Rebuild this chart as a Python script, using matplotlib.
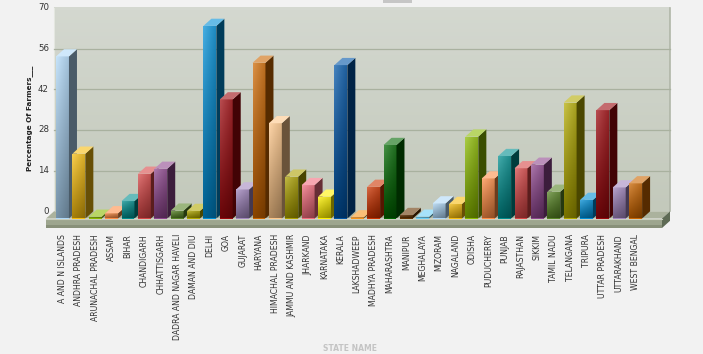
import numpy as np
import matplotlib
matplotlib.use('Agg')
import matplotlib.pyplot as plt
from matplotlib.patches import Polygon, Rectangle
from matplotlib.colors import to_rgb

states = ["A AND N ISLANDS", "ANDHRA PRADESH", "ARUNACHAL PRADESH", "ASSAM", "BIHAR",
          "CHANDIGARH", "CHHATTISGARH", "DADRA AND NAGAR HAVELI", "DAMAN AND DIU", "DELHI",
          "GOA", "GUJARAT", "HARYANA", "HIMACHAL PRADESH", "JAMMU AND KASHMIR", "JHARKAND",
          "KARNATAKA", "KERALA", "LAKSHADWEEP", "MADHYA PRADESH", "MAHARASHTRA", "MANIPUR",
          "MEGHALAYA", "MIZORAM", "NAGALAND", "ODISHA", "PUDUCHERRY", "PUNJAB", "RAJASTHAN",
          "SIKKIM", "TAMIL NADU", "TELANGANA", "TRIPURA", "UTTAR PRADESH", "UTTARAKHAND",
          "WEST BENGAL"]
values = [55.8, 22.3, 0.6, 1.8, 6.0, 15.4, 17.1, 2.7, 2.6, 66.3,
          41.0, 10.0, 53.6, 32.8, 14.4, 11.5, 7.5, 52.8, 0.4, 10.9,
          25.3, 1.2, 0.6, 5.2, 5.0, 28.2, 13.8, 21.5, 17.3, 18.5,
          9.2, 39.9, 6.4, 37.3, 10.7, 12.1]
palette = ["#AFD8F8", "#F6BD0F", "#8BBA00", "#FF8E46", "#008E8E", "#D64646", "#8E468E",
           "#588526", "#B3AA00", "#008ED6", "#9D080D", "#A186BE", "#CC6600", "#FDC689",
           "#ABA000", "#F26D7D", "#FFF200", "#0054A6", "#F7941C", "#CC3300", "#006600",
           "#663300", "#6DCFF6"]
yticks = [0, 14, 28, 42, 56, 70]
ylabel = "Percentage Of Farmers___"
xlabel = "STATE NAME"

W, H = 703, 354
fig = plt.figure(figsize=(W / 100, H / 100), dpi=100, facecolor='#f2f2f2')

# pixel-to-data geometry
slot, x0px, ppu, basepx = 16.375, 62.5, 2.905, 218.5
ax = fig.add_axes([40 / W, 1 - 232 / H, 635 / W, 227 / H])
xlim = ((40 - x0px) / slot, (675 - x0px) / slot)
ylim = ((basepx - 232) / ppu, (basepx - 5) / ppu)
ax.set_facecolor('none')
for s in ax.spines.values():
    s.set_visible(False)

dx = 8 / slot
dy = 7.2 / ppu
bw = 0.79
ymax = yticks[-1]

xl = (46 - x0px) / slot
xr = (662 - x0px) / slot
slab = (basepx - 228) / ppu

# back wall with gradient
grad = np.linspace(0, 1, 64)[:, None]
top_c = np.array(to_rgb('#d4d8d0'))
bot_c = np.array(to_rgb('#c3c9bb'))
wall = top_c[None, None, :] * (1 - grad[..., None]) + bot_c[None, None, :] * grad[..., None]
wall = np.repeat(wall, 2, axis=1)
ax.imshow(wall, extent=[xl + dx, xr + dx, dy, ymax + dy], aspect='auto', zorder=0, origin='upper')
ax.plot([xl + dx, xl + dx], [dy, ymax + dy], color='#e4e7e0', lw=0.8, zorder=0.5)
ax.plot([xr + dx, xr + dx], [dy, ymax + dy], color='#b0b6a8', lw=1.2, zorder=0.5)
for v in yticks[1:-1]:
    ax.plot([xl + dx, xr + dx], [v + dy, v + dy], color='#a9b19f', lw=0.9, zorder=0.6)

# floor
ax.add_patch(Polygon([(xl, 0), (xr, 0), (xr + dx, dy), (xl + dx, dy)], closed=True,
                     fc='#abb29d', ec='none', zorder=1))
ax.add_patch(Rectangle((xl, slab), xr - xl, -slab, fc='#9da58e', ec='none', zorder=1))
ax.add_patch(Rectangle((xl, slab), xr - xl, -slab * 0.35, fc='#889079', ec='none', zorder=1.1))
ax.plot([xl, xr], [0, 0], color='#c8cdbd', lw=0.8, zorder=1.2)
ax.add_patch(Polygon([(xr, 0), (xr + dx, dy), (xr + dx, dy + slab), (xr, slab)], closed=True,
                     fc='#5f6b55', ec='none', zorder=1))

# bars
ny, nx = 48, 16
ty = np.linspace(0, 1, ny)[:, None]
tx = np.linspace(0, 1, nx)[None, :]
for i, v in enumerate(values):
    base = np.array(to_rgb(palette[i % len(palette)]))
    z = 2 + i * 0.01
    bars = ax.bar(i, v, width=bw, bottom=0, color=base, zorder=z, linewidth=0)
    patch = bars[0]
    lightmix = 0.28 * (1 - ty) * (1 - 0.5 * tx)
    dark = 1 - 0.32 * ty - 0.12 * tx
    img = (base[None, None, :] * (1 - lightmix[..., None]) + lightmix[..., None]) * dark[..., None]
    img = np.clip(img, 0, 1)
    im = ax.imshow(img, extent=[i - bw / 2, i + bw / 2, 0, v], aspect='auto',
                   zorder=z + 0.001, origin='upper')
    im.set_clip_path(patch)
    side = base * 0.42
    ax.add_patch(Polygon([(i + bw / 2, 0), (i + bw / 2 + dx, dy), (i + bw / 2 + dx, v + dy),
                          (i + bw / 2, v)], closed=True, fc=side, ec='none', zorder=z + 0.002))
    topc = base * 0.6 + 0.4
    ax.add_patch(Polygon([(i - bw / 2, v), (i + bw / 2, v), (i + bw / 2 + dx, v + dy),
                          (i - bw / 2 + dx, v + dy)], closed=True, fc=topc, ec='none',
                         zorder=z + 0.003))

ax.set_xlim(*xlim)
ax.set_ylim(*ylim)

# y tick labels on back wall
for v in yticks:
    ax.text((49 - x0px) / slot, v + dy, str(v), ha='right', va='center', fontsize=6.2,
            color='#333333', clip_on=False)
ax.set_yticks([])
ax.set_xticks(range(len(states)))
ax.set_xticklabels(states, rotation=90, fontsize=5.6, color='#333333', va='top', ha='center')
ax.tick_params(axis='x', length=0, pad=1.5)

ax.text((30 - x0px) / slot, (basepx - 118) / ppu, ylabel, rotation=90, ha='center',
        va='center', fontsize=5.2, fontweight='bold', color='#222222', clip_on=False)

fig.text(350 / W, 1 - 344 / H, xlabel, ha='center', va='top', fontsize=5.5, fontweight='bold',
         color='#c4c4c4')
fig.patches.append(Rectangle((383 / W, 1 - 2.5 / H), 29 / W, 2.5 / H, transform=fig.transFigure,
                             fc='#c6c6c6', ec='none', figure=fig))

fig.savefig('out.png', dpi=100, facecolor=fig.get_facecolor())
